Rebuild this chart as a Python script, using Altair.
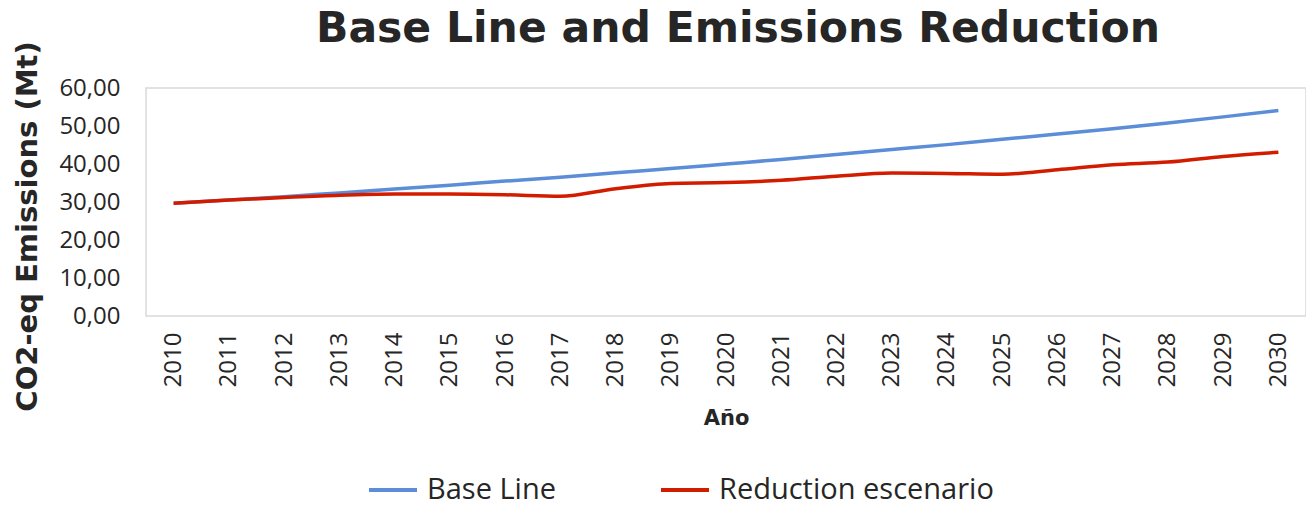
import altair as alt
import pandas as pd

years = [str(y) for y in range(2010, 2031)]
base_line = [29.7, 30.5, 31.4, 32.4, 33.4, 34.4, 35.5, 36.5, 37.7, 38.8, 40.0,
             41.2, 42.5, 43.8, 45.1, 46.5, 47.9, 49.3, 50.8, 52.4, 54.1]
reduction = [29.7, 30.5, 31.2, 31.8, 32.1, 32.1, 31.9, 31.5, 33.5, 34.9, 35.1,
             35.7, 36.8, 37.6, 37.5, 37.3, 38.5, 39.8, 40.5, 42.0, 43.1]
series_names = ["Base Line", "Reduction escenario"]
series_colors = ["#5B8DD8", "#D21C00"]

rows = []
for i, y in enumerate(years):
    rows.append({"Año": y, "value": base_line[i], "series": series_names[0]})
    rows.append({"Año": y, "value": reduction[i], "series": series_names[1]})
df = pd.DataFrame(rows)

chart = alt.Chart(df).mark_line(strokeWidth=3.5, interpolate="monotone").encode(
    x=alt.X("Año:O", sort=years,
            scale=alt.Scale(type="point", padding=0.5),
            axis=alt.Axis(title="Año", labelAngle=270, labelFontSize=24,
                          labelFont="Open Sans", labelColor="#262626",
                          labelPadding=16, ticks=False, domain=False, grid=False,
                          titleFont="DejaVu Sans", titleFontWeight="bold",
                          titleFontSize=21, titleColor="#262626", titlePadding=21)),
    y=alt.Y("value:Q",
            scale=alt.Scale(domain=[0, 60], nice=False),
            axis=alt.Axis(title="CO2-eq Emissions (Mt)", values=[0, 10, 20, 30, 40, 50, 60],
                          labelExpr="replace(format(datum.value, '.2f'), '.', ',')",
                          labelFontSize=24, labelFont="Open Sans", labelColor="#262626",
                          labelPadding=26, ticks=False, domain=False, grid=False,
                          titleFont="DejaVu Sans", titleFontWeight="bold",
                          titleFontSize=29, titleColor="#262626", titlePadding=16,
                          titleY=138)),
    color=alt.Color("series:N", sort=series_names,
                    scale=alt.Scale(domain=series_names, range=series_colors),
                    legend=alt.Legend(title=None, orient="none", direction="horizontal",
                                      legendX=221, legendY=376,
                                      symbolType="stroke", symbolSize=2304,
                                      symbolStrokeWidth=4, labelFontSize=29,
                                      labelFont="Open Sans", labelColor="#262626",
                                      labelLimit=0, columnPadding=96, labelOffset=8)),
).properties(
    width=1160, height=228,
    title=alt.TitleParams("Base Line and Emissions Reduction", font="DejaVu Sans",
                          fontSize=42.5, fontWeight="bold", color="#262626",
                          anchor="middle", frame="group", offset=-10, dx=12),
    padding={"left": 5, "top": 0, "right": 0, "bottom": 2},
).configure_view(stroke="#D9D9D9", strokeWidth=1.5)

chart.save("out.html", embed_options={"renderer": "svg", "actions": False})
